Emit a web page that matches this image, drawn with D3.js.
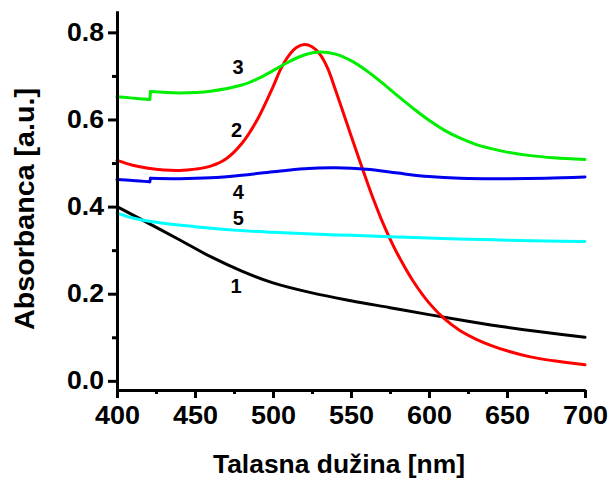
<!DOCTYPE html>
<html>
<head>
<meta charset="utf-8">
<script src="https://cdn.jsdelivr.net/npm/d3@7"></script>
<style>
  html, body { margin: 0; padding: 0; background: #fff; }
  svg { display: block; }
  text { font-family: "Liberation Sans", Arial, sans-serif; font-weight: bold; fill: #000; }
</style>
</head>
<body>
<svg id="chart" width="609" height="478"></svg>
<script>
// Absorption spectra of five samples, 400–700 nm
const wavelength1 = [400, 420, 440, 460, 480, 500, 525, 550, 575, 600, 625, 650, 675, 700];
const absorbance1 = [0.400, 0.362, 0.324, 0.285, 0.252, 0.225, 0.202, 0.184, 0.168, 0.152, 0.137, 0.123, 0.111, 0.100];

const wavelength2 = [400, 410, 420, 430, 440, 450, 460, 470, 480, 490, 500, 505, 510, 515, 520, 525, 530, 535, 540, 545, 550, 555, 560, 565, 570, 575, 580, 590, 600, 610, 620, 630, 640, 650, 665, 680, 700];
const absorbance2 = [0.506, 0.495, 0.488, 0.484, 0.483, 0.486, 0.493, 0.510, 0.545, 0.600, 0.675, 0.716, 0.746, 0.765, 0.772, 0.767, 0.750, 0.718, 0.668, 0.616, 0.563, 0.511, 0.460, 0.411, 0.366, 0.326, 0.290, 0.228, 0.179, 0.142, 0.115, 0.096, 0.081, 0.069, 0.055, 0.046, 0.037];

// series 3 and 4 have a small detector step at 421 nm
const wavelength3 = [400, 410, 421, 421.5, 440, 460, 480, 490, 500, 510, 520, 530, 540, 550, 560, 570, 580, 590, 600, 610, 620, 630, 640, 650, 665, 680, 700];
const absorbance3 = [0.652, 0.649, 0.646, 0.664, 0.661, 0.665, 0.679, 0.693, 0.712, 0.732, 0.748, 0.755, 0.750, 0.735, 0.712, 0.684, 0.654, 0.625, 0.598, 0.575, 0.557, 0.543, 0.533, 0.525, 0.517, 0.512, 0.508];

const wavelength4 = [400, 410, 421, 421.5, 440, 460, 480, 500, 520, 540, 560, 580, 600, 620, 650, 675, 700];
const absorbance4 = [0.462, 0.460, 0.457, 0.465, 0.464, 0.466, 0.472, 0.480, 0.487, 0.489, 0.486, 0.477, 0.469, 0.465, 0.464, 0.465, 0.468];

const wavelength5 = [400, 410, 425, 450, 475, 500, 525, 550, 575, 600, 625, 650, 675, 700];
const absorbance5 = [0.385, 0.374, 0.364, 0.354, 0.346, 0.341, 0.337, 0.334, 0.331, 0.328, 0.325, 0.323, 0.321, 0.320];

const seriesNames = ["1", "2", "3", "4", "5"];
const seriesColors = ["#000000", "#ff0000", "#00ee00", "#0000ee", "#00ffff"];
// where each curve number is written (wavelength, absorbance)
const labelWavelength = [476.3, 476.7, 477.6, 477.8, 477.8];
const labelAbsorbance = [0.218, 0.577, 0.722, 0.435, 0.374];

const xTicks = [400, 450, 500, 550, 600, 650, 700];
const xMinorTicks = [425, 475, 525, 575, 625, 675];
const yTicks = [0.0, 0.2, 0.4, 0.6, 0.8];
const yMinorTicks = [0.1, 0.3, 0.5, 0.7];

const xTitle = "Talasna dužina [nm]";
const yTitle = "Absorbanca [a.u.]";

const series = [
  { x: wavelength1, y: absorbance1 },
  { x: wavelength2, y: absorbance2 },
  { x: wavelength3, y: absorbance3 },
  { x: wavelength4, y: absorbance4 },
  { x: wavelength5, y: absorbance5 }
];

const svg = d3.select("#chart");

const x = d3.scaleLinear().domain([400, 700]).range([117, 585]);
const y = d3.scaleLinear().domain([-0.021, 0.849]).range([390, 11]);

// smooth curve pieces, joined by straight jumps where the spectrum steps
const smooth = d3.line()
  .x(d => x(d[0]))
  .y(d => y(d[1]))
  .curve(d3.curveCatmullRom.alpha(0.5));
const straight = d3.line()
  .x(d => x(d[0]))
  .y(d => y(d[1]));

const curves = svg.append("g")
  .attr("fill", "none")
  .attr("stroke-width", 3)
  .attr("stroke-linejoin", "round")
  .attr("stroke-linecap", "round");

series.forEach((s, i) => {
  const pts = s.x.map((w, k) => [w, s.y[k]]);
  const pieces = [];
  const jumps = [];
  let current = [pts[0]];
  for (let k = 1; k < pts.length; k++) {
    if (pts[k][0] - pts[k - 1][0] < 2) {
      pieces.push(current);
      jumps.push([pts[k - 1], pts[k]]);
      current = [pts[k]];
    } else {
      current.push(pts[k]);
    }
  }
  pieces.push(current);
  const g = curves.append("g").attr("stroke", seriesColors[i]);
  pieces.forEach(p => g.append("path").attr("d", smooth(p)));
  jumps.forEach(j => g.append("path").attr("d", straight(j)));
});

// curve numbers
svg.append("g").selectAll("text")
  .data(seriesNames)
  .join("text")
  .attr("x", (d, i) => x(labelWavelength[i]))
  .attr("y", (d, i) => y(labelAbsorbance[i]))
  .attr("text-anchor", "middle")
  .attr("dy", "0.36em")
  .attr("font-size", 20)
  .text(d => d);

// axes
const xAxis = svg.append("g")
  .attr("transform", `translate(0,${y.range()[0]})`)
  .call(d3.axisBottom(x).tickValues(xTicks).tickSize(8).tickSizeOuter(0).tickPadding(6).tickFormat(d3.format("d")));
const xMinor = svg.append("g")
  .attr("transform", `translate(0,${y.range()[0]})`)
  .call(d3.axisBottom(x).tickValues(xMinorTicks).tickSize(4).tickSizeOuter(0).tickFormat(""));

const yAxis = svg.append("g")
  .attr("transform", `translate(${x.range()[0]},0)`)
  .call(d3.axisLeft(y).tickValues(yTicks).tickSize(9).tickSizeOuter(0).tickPadding(4).tickFormat(d3.format(".1f")));
const yMinor = svg.append("g")
  .attr("transform", `translate(${x.range()[0]},0)`)
  .call(d3.axisLeft(y).tickValues(yMinorTicks).tickSize(5).tickSizeOuter(0).tickFormat(""));

[xAxis, xMinor, yAxis, yMinor].forEach(g => {
  g.selectAll(".domain").attr("stroke", "#000").attr("stroke-width", 3);
  g.selectAll(".tick line").attr("stroke", "#000").attr("stroke-width", 3);
  g.selectAll(".tick text")
    .attr("font-family", "Liberation Sans, Arial, sans-serif")
    .attr("font-weight", "bold")
    .attr("font-size", 25)
    .attr("fill", "#000");
});
xAxis.selectAll(".tick text").attr("dy", "0.71em").attr("y", 16).attr("textLength", 45).attr("lengthAdjust", "spacingAndGlyphs");
yAxis.selectAll(".tick text").attr("textLength", 37).attr("lengthAdjust", "spacingAndGlyphs");

// axis titles
svg.append("text")
  .attr("x", 339)
  .attr("y", 473)
  .attr("text-anchor", "middle")
  .attr("font-size", 26)
  .attr("textLength", 252)
  .attr("lengthAdjust", "spacingAndGlyphs")
  .text(xTitle);

svg.append("text")
  .attr("transform", "translate(34,209) rotate(-90)")
  .attr("text-anchor", "middle")
  .attr("font-size", 27)
  .attr("textLength", 242)
  .attr("lengthAdjust", "spacingAndGlyphs")
  .text(yTitle);
</script>
</body>
</html>
